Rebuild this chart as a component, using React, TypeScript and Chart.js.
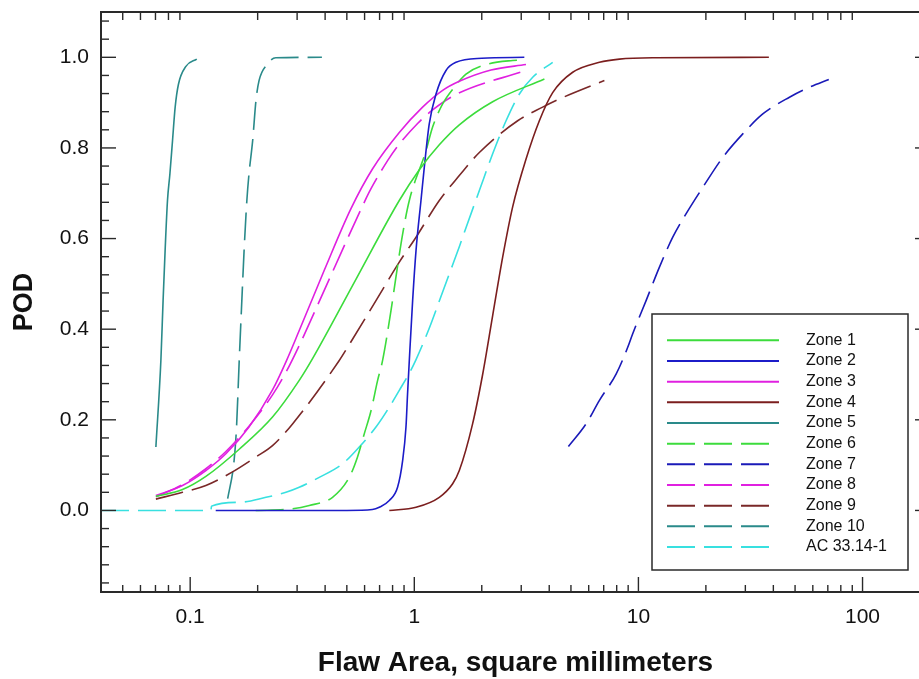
import React, { useEffect, useRef } from 'react';
import { Chart, registerables } from 'chart.js';

Chart.register(...registerables);

const FONT = 'Arial, "Liberation Sans", sans-serif';
const TEXT = '#111111';
const FRAME = '#2a2a2a';

// ---- data (x = flaw area mm², y = POD) ----
const zone1 = [
  [0.0703, 0.031], [0.0924, 0.046], [0.1175, 0.075], [0.1655, 0.135], [0.233, 0.206],
  [0.3066, 0.287], [0.3515, 0.335], [0.549, 0.51], [0.857, 0.684], [1.053, 0.752],
  [1.293, 0.807], [1.588, 0.851], [2.237, 0.902], [3.806, 0.952],
];
const zone2 = [
  [0.13, 0], [0.5, 0], [0.65, 0.002], [0.698, 0.007], [0.7735, 0.022], [0.842, 0.051],
  [0.887, 0.11], [0.918, 0.184], [0.933, 0.257], [0.95, 0.331], [0.983, 0.463],
  [1.018, 0.574], [1.071, 0.684], [1.108, 0.757], [1.166, 0.853], [1.25, 0.919],
  [1.385, 0.971], [1.535, 0.989], [2.0, 0.998], [3.097, 1.0],
];
const zone3 = [
  [0.0703, 0.033], [0.0924, 0.055], [0.1175, 0.088], [0.1443, 0.125], [0.183, 0.184],
  [0.233, 0.266], [0.2675, 0.328], [0.3066, 0.397], [0.3965, 0.53], [0.5217, 0.666],
  [0.6516, 0.754], [0.857, 0.834], [1.089, 0.89], [1.338, 0.927], [1.588, 0.947],
  [2.2, 0.972], [3.15, 0.984],
];
const zone4 = [
  [0.7735, 0], [1.018, 0.007], [1.293, 0.029], [1.483, 0.059], [1.588, 0.088],
  [1.82, 0.191], [2.018, 0.3], [2.237, 0.43], [2.479, 0.559], [2.747, 0.67],
  [3.15, 0.775], [3.614, 0.86], [4.144, 0.922], [5.09, 0.967], [6.7, 0.989],
  [8.23, 0.996], [12, 0.999], [38.2, 1.0],
];
const zone5 = [
  [0.0703, 0.14], [0.074, 0.331], [0.0757, 0.463], [0.0773, 0.574], [0.0792, 0.684],
  [0.0812, 0.743], [0.0834, 0.816], [0.0857, 0.89], [0.0886, 0.94], [0.0957, 0.98],
  [0.107, 0.996],
];
const zone6 = [
  [0.196, 0], [0.28, 0.003], [0.34, 0.011], [0.4317, 0.029], [0.5126, 0.073],
  [0.558, 0.118], [0.598, 0.169], [0.641, 0.22], [0.686, 0.287], [0.722, 0.331],
  [0.787, 0.441], [0.828, 0.515], [0.887, 0.61], [0.95, 0.684], [1.128, 0.794],
  [1.207, 0.846], [1.338, 0.897], [1.509, 0.934], [1.701, 0.963], [2.09, 0.984],
  [2.747, 0.993], [3.044, 0.994],
];
const zone7 = [
  [4.87, 0.141], [5.84, 0.191], [6.7, 0.243], [7.95, 0.301], [8.96, 0.36], [9.43, 0.39],
  [10.82, 0.463], [12.41, 0.537], [14.23, 0.603], [16.33, 0.655], [19.37, 0.713],
  [23.78, 0.779], [29.22, 0.831], [35.89, 0.875], [47.2, 0.912], [58.0, 0.934], [70.7, 0.951],
];
const zone8 = [
  [0.0703, 0.03], [0.0924, 0.057], [0.1175, 0.092], [0.1443, 0.13], [0.183, 0.186],
  [0.233, 0.255], [0.2675, 0.305], [0.3066, 0.364], [0.417, 0.51], [0.598, 0.68],
  [0.641, 0.71], [0.76, 0.772], [0.828, 0.799], [1.034, 0.854], [1.207, 0.884],
  [1.535, 0.918], [3.15, 0.971],
];
const zone9 = [
  [0.0703, 0.025], [0.0924, 0.04], [0.1175, 0.055], [0.1545, 0.085], [0.1965, 0.118],
  [0.233, 0.143], [0.2862, 0.191], [0.4626, 0.331], [0.5037, 0.36], [0.6745, 0.463],
  [0.857, 0.548], [1.018, 0.603], [1.293, 0.684], [1.588, 0.739], [1.951, 0.79],
  [2.892, 0.86], [3.739, 0.89], [4.44, 0.908], [7.05, 0.949],
];
const zone10 = [
  [0.147, 0.026], [0.157, 0.11], [0.161, 0.184], [0.1655, 0.331], [0.17, 0.463],
  [0.174, 0.574], [0.179, 0.684], [0.183, 0.743], [0.19, 0.816], [0.1965, 0.904],
  [0.203, 0.949], [0.22, 0.984], [0.241, 0.999], [0.387, 1.0],
];
const ac3314 = [
  [0.04, 0], [0.1237, 0], [0.1245, 0.0095], [0.1655, 0.018], [0.2178, 0.029],
  [0.2675, 0.04], [0.3066, 0.051], [0.3766, 0.073], [0.4785, 0.103], [0.568, 0.14],
  [0.6745, 0.184], [0.7735, 0.228], [0.857, 0.265], [0.95, 0.303], [1.018, 0.333],
  [1.166, 0.402], [1.293, 0.462], [1.433, 0.522], [1.588, 0.582], [1.701, 0.624],
  [1.951, 0.706], [2.237, 0.787], [2.567, 0.86], [2.943, 0.919], [3.375, 0.956],
  [4.144, 0.989],
];

const seriesLabels = ['Zone 1', 'Zone 2', 'Zone 3', 'Zone 4', 'Zone 5', 'Zone 6', 'Zone 7', 'Zone 8', 'Zone 9', 'Zone 10', 'AC 33.14-1'];
const seriesData = [zone1, zone2, zone3, zone4, zone5, zone6, zone7, zone8, zone9, zone10, ac3314];
const seriesColors = ['#3cdc3c', '#1c1cc8', '#e020e0', '#7b1e1e', '#2a8a8a', '#3cdc3c', '#1a1ab8', '#e020e0', '#7a2828', '#2a8a8a', '#38e0e0'];
const seriesDashed = [false, false, false, false, false, true, true, true, true, true, true];

// ---- axes ----
const xMin = 0.04, xMax = 200;
const yMin = -0.18, yMax = 1.1;
const xTickValues = [0.1, 1, 10, 100];
const xMinorTicks = [0.05, 0.06, 0.07, 0.08, 0.09, 0.2, 0.3, 0.4, 0.5, 0.6, 0.7, 0.8, 0.9,
  2, 3, 4, 5, 6, 7, 8, 9, 20, 30, 40, 50, 60, 70, 80, 90];
const yTickValues = [0, 0.2, 0.4, 0.6, 0.8, 1.0];
const yMinorTicks = [-0.16, -0.12, -0.08, -0.04, 0.04, 0.08, 0.12, 0.16, 0.24, 0.28, 0.32, 0.36,
  0.44, 0.48, 0.52, 0.56, 0.64, 0.68, 0.72, 0.76, 0.84, 0.88, 0.92, 0.96, 1.04, 1.08];

const DASH = [28, 9];

const frameTicks = {
  id: 'frameTicks',
  afterDatasetsDraw(chart: any) {
    const { ctx, chartArea: a, scales } = chart;
    const xs = scales.x, ys = scales.y;
    const seg = (x1: number, y1: number, x2: number, y2: number) => {
      ctx.beginPath(); ctx.moveTo(x1, y1); ctx.lineTo(x2, y2); ctx.stroke();
    };
    ctx.save();
    ctx.strokeStyle = FRAME;
    ctx.lineWidth = 1.4;
    for (const v of xMinorTicks) {
      const p = xs.getPixelForValue(v);
      seg(p, a.bottom, p, a.bottom - 7);
      seg(p, a.top, p, a.top + 8);
    }
    for (const v of xTickValues) {
      const p = xs.getPixelForValue(v);
      seg(p, a.bottom, p, a.bottom - 15);
    }
    for (const v of yMinorTicks) {
      const p = ys.getPixelForValue(v);
      seg(a.left, p, a.left + 8, p);
      seg(a.right, p, a.right - 8, p);
    }
    for (const v of yTickValues) {
      const p = ys.getPixelForValue(v);
      seg(a.left, p, a.left + 15, p);
      seg(a.right, p, a.right - 15, p);
    }
    ctx.lineWidth = 2;
    ctx.strokeRect(a.left, a.top, a.right - a.left, a.bottom - a.top);
    ctx.restore();
  },
};

const boxLegend = {
  id: 'boxLegend',
  afterDraw(chart: any) {
    const { ctx, chartArea: a } = chart;
    const w = 256, h = 256;
    const left = a.right - 22 - w, top = a.bottom - 22 - h;
    ctx.save();
    ctx.fillStyle = '#ffffff';
    ctx.fillRect(left, top, w, h);
    ctx.strokeStyle = FRAME;
    ctx.lineWidth = 1.5;
    ctx.strokeRect(left, top, w, h);
    chart.data.datasets.forEach((ds: any, i: number) => {
      const y = top + 26.3 + i * 20.67;
      const dashed = ds.borderDash && ds.borderDash.length > 0;
      ctx.strokeStyle = ds.borderColor;
      ctx.lineWidth = 2;
      ctx.setLineDash(dashed ? ds.borderDash : []);
      ctx.beginPath();
      ctx.moveTo(left + 15, y);
      ctx.lineTo(left + (dashed ? 117 : 127), y);
      ctx.stroke();
      ctx.setLineDash([]);
      ctx.fillStyle = TEXT;
      ctx.font = `16px ${FONT}`;
      ctx.textBaseline = 'middle';
      ctx.textAlign = 'left';
      ctx.fillText(ds.label, left + 154, y);
    });
    ctx.restore();
  },
};

export default function App() {
  const ref = useRef<HTMLCanvasElement>(null);
  useEffect(() => {
    document.body.style.margin = '0';
    document.body.style.background = '#ffffff';
    const chart = new Chart(ref.current as HTMLCanvasElement, {
      type: 'line',
      data: {
        datasets: seriesLabels.map((label, i) => ({
          label,
          data: seriesData[i].map(([x, y]) => ({ x, y })),
          borderColor: seriesColors[i],
          backgroundColor: seriesColors[i],
          borderWidth: 1.6,
          borderDash: seriesDashed[i] ? DASH : [],
          pointRadius: 0,
          fill: false,
          cubicInterpolationMode: 'monotone' as const,
        })),
      },
      options: {
        animation: false,
        responsive: false,
        layout: { padding: { top: 12, right: 2, left: 0, bottom: 0 } },
        plugins: { legend: { display: false }, tooltip: { enabled: false } },
        scales: {
          x: {
            type: 'logarithmic',
            min: xMin,
            max: xMax,
            position: 'bottom',
            grid: { display: false, drawTicks: false },
            border: { display: false },
            afterBuildTicks: (s: any) => { s.ticks = xTickValues.map((v) => ({ value: v })); },
            afterFit: (s: any) => { s.height = 87; s.paddingLeft = 0; s.paddingRight = 0; },
            ticks: {
              autoSkip: false,
              maxRotation: 0,
              padding: 13,
              color: TEXT,
              font: { family: FONT, size: 21 },
              callback: (v: any) => String(v),
            },
            title: {
              display: true,
              text: 'Flaw Area, square millimeters',
              color: TEXT,
              font: { family: FONT, size: 28, weight: 'bold', lineHeight: 1 },
              padding: { top: 0, bottom: 2 },
            },
          },
          y: {
            type: 'linear',
            min: yMin,
            max: yMax,
            grid: { display: false, drawTicks: false },
            border: { display: false },
            afterBuildTicks: (s: any) => { s.ticks = yTickValues.map((v) => ({ value: v })); },
            afterFit: (s: any) => { s.width = 101; s.paddingTop = 0; s.paddingBottom = 0; },
            ticks: {
              padding: 12,
              color: TEXT,
              font: { family: FONT, size: 21 },
              callback: (v: any) => Number(v).toFixed(1),
            },
            title: {
              display: true,
              text: 'POD',
              color: TEXT,
              font: { family: FONT, size: 27, weight: 'bold', lineHeight: 1 },
              padding: { top: 11, bottom: 0 },
            },
          },
        },
      },
      plugins: [frameTicks, boxLegend],
    });
    return () => chart.destroy();
  }, []);
  return (
    <div style={{ position: 'fixed', left: 0, top: 0, width: 919, height: 679, overflow: 'hidden', background: '#ffffff' }}>
      <canvas ref={ref} width={932} height={679} style={{ display: 'block' }} />
    </div>
  );
}
